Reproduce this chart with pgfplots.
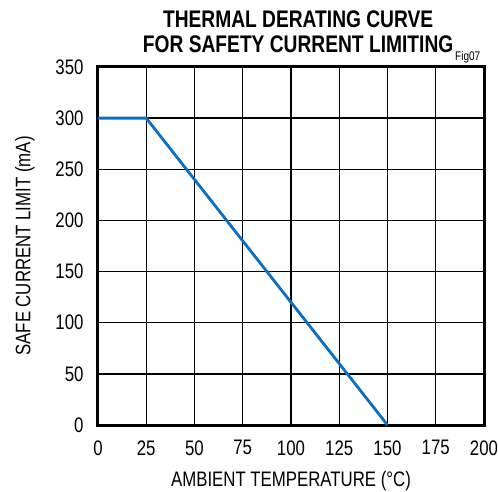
\documentclass[border=0pt]{standalone}
\usepackage{fontspec}
\setmainfont{Liberation Sans}[FakeStretch=0.8]
\usepackage{pgfplots}
\pgfplotsset{compat=1.18}
\definecolor{curve}{HTML}{0A6FC2}
\begin{document}
\begin{tikzpicture}
\begin{axis}[
  scale only axis,
  width=386bp, height=358bp,
  xmin=0, xmax=200, ymin=0, ymax=350,
  xtick={0,25,...,200}, ytick={0,50,...,350},
  /pgf/number format/assume math mode=true,
  tick label style={font=\fontsize{21bp}{24bp}\selectfont},
  label style={font=\fontsize{21bp}{24bp}\selectfont},
  major tick length=0pt,
  grid=major,
  major grid style={black, line width=1.3bp},
  axis line style={black, line width=3bp},
  xticklabel style={yshift=-12bp},
  yticklabel style={xshift=-11bp},
  xlabel={AMBIENT TEMPERATURE (°C)},
  ylabel={SAFE CURRENT LIMIT (mA)},
  xlabel style={yshift=-9bp},
  ylabel style={yshift=14bp},
  clip=false,
]
\coordinate (sw) at (rel axis cs:0,0);
\coordinate (ne) at (rel axis cs:1,1);
\coordinate (tc) at (rel axis cs:0.5185,1);
\addplot[curve, line width=2.8bp] coordinates {(0,300) (25,300) (150,0)};
\end{axis}
\node[font=\fontsize{24bp}{26bp}\selectfont\bfseries, anchor=base] at ([yshift=39.5bp]tc) {THERMAL DERATING CURVE};
\node[font=\fontsize{24bp}{26bp}\selectfont\bfseries, anchor=base] at ([yshift=14bp]tc) {FOR SAFETY CURRENT LIMITING};
\node[font=\fontsize{12.5bp}{14bp}\selectfont, anchor=base west, inner sep=0pt] at ([xshift=-29bp,yshift=6bp]ne) {Fig07};
\pgfresetboundingbox
\path[use as bounding box] ([xshift=-98bp,yshift=-67bp]sw) rectangle ([xshift=14bp,yshift=67bp]ne);
\end{tikzpicture}
\end{document}
